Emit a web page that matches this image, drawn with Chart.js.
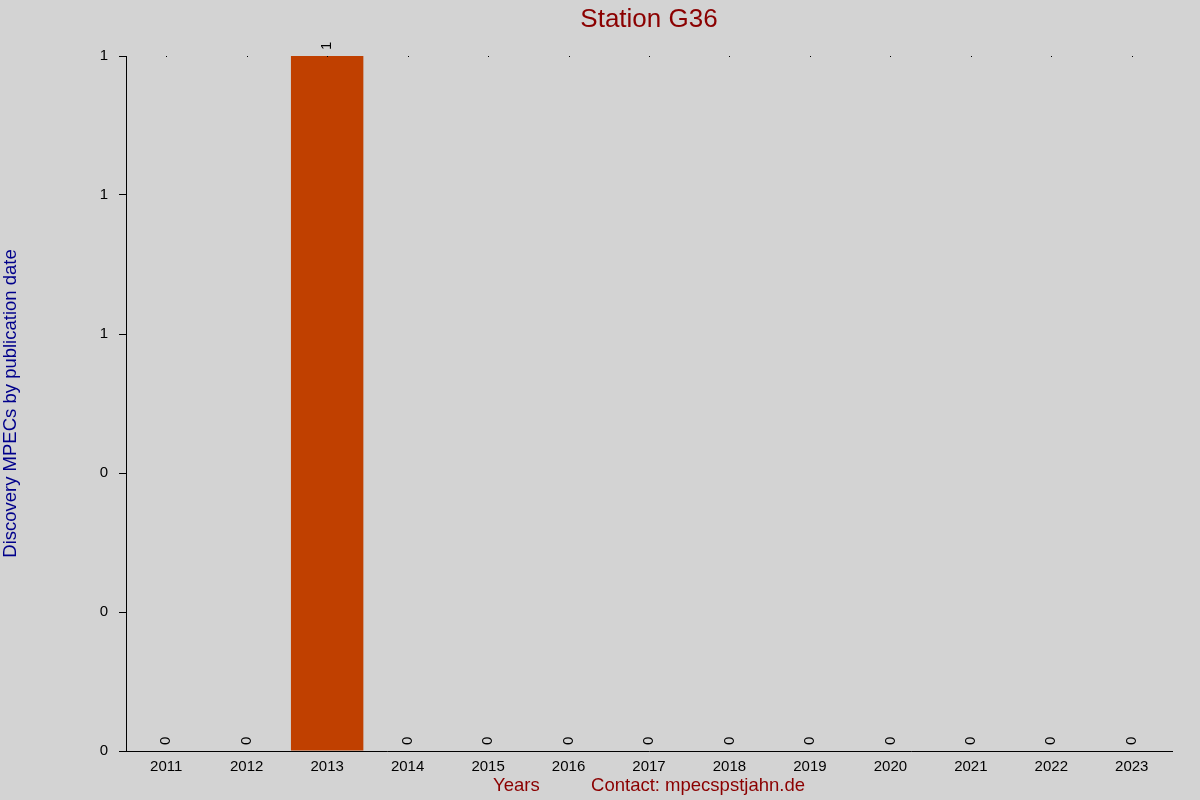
<!DOCTYPE html>
<html>
<head>
<meta charset="utf-8">
<script src="https://cdn.jsdelivr.net/npm/chart.js@4/dist/chart.umd.min.js"></script>
<style>
  html, body { margin: 0; padding: 0; background: #d3d3d3; }
  #wrap { width: 1200px; height: 800px; }
</style>
</head>
<body>
<div id="wrap"><canvas id="chart"></canvas></div>
<script>
const years = ['2011','2012','2013','2014','2015','2016','2017','2018','2019','2020','2021','2022','2023']
const discoveries = [0, 0, 1, 0, 0, 0, 0, 0, 0, 0, 0, 0, 0]
const yTicks = [0, 0.2, 0.4, 0.6, 0.8, 1]

const FONT = 'Arial, "Liberation Sans", sans-serif'

// rotated value labels on top of each bar
const valueLabels = {
    id: 'valueLabels',
    afterDatasetsDraw(chart) {
        const ctx = chart.ctx
        const meta = chart.getDatasetMeta(0)
        ctx.save()
        ctx.fillStyle = '#000'
        ctx.font = '15px ' + FONT
        ctx.textAlign = 'left'
        ctx.textBaseline = 'middle'
        meta.data.forEach((bar, i) => {
            ctx.save()
            ctx.translate(bar.x, bar.y - 6)
            ctx.rotate(-Math.PI / 2)
            ctx.fillText(String(discoveries[i]), 0, 0)
            ctx.restore()
        })
        // little marks along the top edge
        const xs = chart.scales.x
        years.forEach((y, i) => {
            ctx.fillRect(Math.round(xs.getPixelForValue(i)), chart.chartArea.top, 1, 1)
        })
        ctx.restore()
    }
}

const bg = {
    id: 'bg',
    beforeDraw(chart) {
        const ctx = chart.ctx
        ctx.save()
        ctx.fillStyle = '#d3d3d3'
        ctx.fillRect(0, 0, chart.width, chart.height)
        ctx.restore()
    }
}

new Chart(document.getElementById('chart'), {
    type: 'bar',
    data: {
        labels: years,
        datasets: [{
            label: 'Discoveries',
            data: discoveries,
            backgroundColor: '#c04000',
            borderWidth: 0,
            categoryPercentage: 0.9,
            barPercentage: 1
        }]
    },
    options: {
        responsive: true,
        maintainAspectRatio: false,
        animation: false,
        layout: { padding: { left: 0, right: 28, top: 0, bottom: 0 } },
        plugins: {
            legend: { display: false },
            tooltip: { enabled: false },
            title: {
                display: true,
                fullSize: false,
                text: 'Station G36',
                color: '#8b0000',
                font: { family: FONT, size: 26, weight: 'normal' },
                padding: { top: 4.4, bottom: 20.4 }
            }
        },
        scales: {
            x: {
                afterFit: s => { s.height = 49 },
                grid: { display: true, drawOnChartArea: false, drawTicks: false },
                border: { display: true, color: '#000', width: 1 },
                ticks: {
                    color: '#000',
                    padding: 7,
                    maxRotation: 0,
                    font: { family: FONT, size: 15 }
                },
                title: {
                    display: true,
                    text: 'Years          Contact: mpecspstjahn.de',
                    color: '#8b0000',
                    font: { family: FONT, size: 18.5 },
                    padding: { top: 0, bottom: 3 }
                }
            },
            y: {
                min: 0,
                max: 1,
                afterFit: s => { s.width = 126 },
                afterBuildTicks: s => { s.ticks = yTicks.map(v => ({ value: v })) },
                grid: { display: true, drawOnChartArea: false, drawTicks: true, tickLength: 7, color: '#000' },
                border: { display: true, color: '#000', width: 1 },
                ticks: {
                    color: '#000',
                    padding: 11,
                    font: { family: FONT, size: 15 },
                    callback: v => Math.round(v)
                },
                title: {
                    display: true,
                    text: 'Discovery MPECs by publication date',
                    color: '#00008b',
                    font: { family: FONT, size: 18.5 },
                    padding: { top: 0, bottom: 0 }
                }
            }
        }
    },
    plugins: [bg, valueLabels]
})
</script>
</body>
</html>
